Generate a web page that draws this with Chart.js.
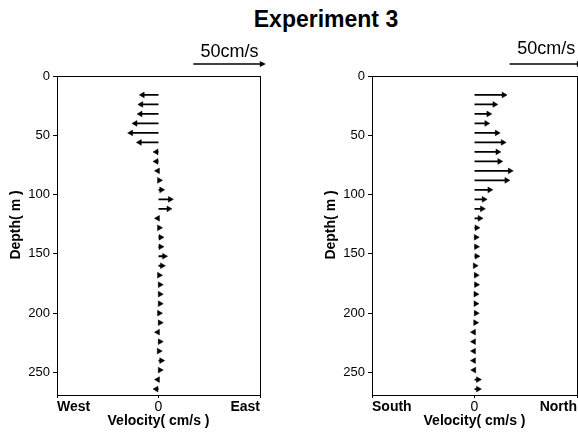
<!DOCTYPE html>
<html><head><meta charset="utf-8">
<script src="https://cdn.jsdelivr.net/npm/chart.js@4"></script>
<style>
html,body{margin:0;padding:0;background:#fff;overflow:hidden;width:578px;height:433px;position:relative;font-family:"Liberation Sans",Arial,sans-serif}
#title{position:absolute;left:0;width:652px;top:6px;text-align:center;font-weight:bold;font-size:23px;color:#000}
.c{position:absolute;top:0}
</style></head><body>
<div id="title">Experiment 3</div>
<canvas id="c1" class="c" style="left:0px"></canvas>
<canvas id="c2" class="c" style="left:315px"></canvas>
<script>
// ---- data ----
const depths = [16,24,32,40,48,56,64,72,80,88,96,104,112,120,128,136,144,152,160,168,176,184,192,200,208,216,224,232,240,248,256,264];
const eastVel = [-11,-12,-12.5,-16,-19,-13,-1.5,-1.5,-0.5,0.5,2,8,7,-0.5,0.5,1.5,1.5,4,2.5,0.5,1,1,1,0.5,1,-0.5,1,0.3,2,1,-0.5,-1.5];
const northVel = [20,13.7,9.6,8.2,15.3,19.4,15.8,17.1,24.2,21.9,10.3,6.4,5.2,3.6,1.5,1,1.2,1.5,0.3,1,1.2,0.8,0.8,1,0.6,-0.5,-0.5,-0.5,-0.5,-0.3,2.5,2.5];
const depthTicks = [0,50,100,150,200,250];
const leftXLabels = ["West","0","East"];
const rightXLabels = ["South","0","North"];
const xTickValues = [-70,0,70];
const scaleBar = {start:24, length:50, label:"50cm/s"};
const yTitle = "Depth( m )";

const FONT = "'Liberation Sans', Arial, sans-serif";

const boxAndScale = {
  id:'boxAndScale',
  afterDraw(chart, args, opts){
    const {ctx, chartArea:a} = chart;
    const xs = chart.scales.x;
    ctx.save();
    ctx.strokeStyle = '#000'; ctx.lineWidth = 1;
    ctx.strokeRect(Math.round(a.left)+0.5, Math.round(a.top)+0.5, Math.round(a.right-a.left), Math.round(a.bottom-a.top));
    // scale arrow
    const x0 = xs.getPixelForValue(scaleBar.start), x1 = xs.getPixelForValue(scaleBar.start+scaleBar.length);
    const y = a.top - 12;
    ctx.lineWidth = 1.5;
    ctx.beginPath(); ctx.moveTo(x0, y); ctx.lineTo(x1-4, y); ctx.stroke();
    ctx.fillStyle = '#000';
    ctx.beginPath(); ctx.moveTo(x1, y); ctx.lineTo(x1-6, y-3); ctx.lineTo(x1-6, y+3); ctx.closePath(); ctx.fill();
    ctx.font = "18px " + FONT; ctx.textAlign = 'center'; ctx.textBaseline = 'alphabetic';
    ctx.fillText(scaleBar.label, (x0+x1)/2, opts.textY);
    // y axis title
    ctx.font = "bold 14px " + FONT; ctx.textBaseline = 'middle';
    ctx.translate(a.left - 41, a.top + (a.bottom - a.top) * 0.467);
    ctx.rotate(-Math.PI/2);
    ctx.fillText(yTitle, 0, 0);
    ctx.restore();
  }
};

function makeChart(id, vals, labels, width, padRight, textY){
  const cv = document.getElementById(id);
  cv.width = width; cv.height = 433;
  const shaft = [];
  depths.forEach((d,i)=>{ shaft.push({x:0,y:d}); shaft.push({x:vals[i],y:d}); shaft.push({x:null,y:null}); });
  const heads = depths.map((d,i)=>({x:vals[i], y:d}));
  const rot = vals.map(v=> v>=0 ? 90 : -90);
  return new Chart(cv, {
    type:'scatter',
    data:{datasets:[
      {data:shaft, showLine:true, spanGaps:false, borderColor:'#000', borderWidth:1.8, pointRadius:0, pointHoverRadius:0},
      {data:heads, pointStyle:'triangle', rotation:rot, pointRadius:3.3, backgroundColor:'#000', borderColor:'#000', borderWidth:0.5}
    ]},
    options:{
      responsive:false, animation:false, devicePixelRatio:1,
      layout:{padding:{top:76, right:padRight, left:0, bottom:0}},
      plugins:{legend:{display:false}, tooltip:{enabled:false}, boxAndScale:{textY:textY}},
      scales:{
        y:{type:'linear', reverse:true, min:0, max:269,
           afterBuildTicks:s=>{ s.ticks = depthTicks.map(v=>({value:v})); },
           afterFit:s=>{ s.width = 57; },
           ticks:{color:'#000', font:{family:FONT, size:13}, padding:3},
           grid:{display:true, drawOnChartArea:false, drawTicks:true, tickLength:4, color:'#000'},
           border:{display:true, color:'#000'},
           title:{display:false}
        },
        x:{type:'linear', min:-70, max:70,
           afterBuildTicks:s=>{ s.ticks = xTickValues.map(v=>({value:v})); },
           afterFit:s=>{ s.height = 38; },
           ticks:{color:'#000', align:'inner', maxRotation:0, autoSkip:false, padding:1,
                  callback:(v,i)=>labels[i],
                  font:c=>({family:FONT, size:14, weight: (c.tick && c.tick.value===0) ? 'normal' : 'bold'})},
           grid:{display:true, drawOnChartArea:false, drawTicks:true, tickLength:3, color:'#000'},
           border:{display:true, color:'#000'},
           title:{display:true, text:'Velocity( cm/s )', color:'#000', font:{family:FONT, size:14, weight:'bold'}, padding:{top:0,bottom:3}}
        }
      }
    },
    plugins:[boxAndScale]
  });
}
makeChart('c1', eastVel, leftXLabels, 300, 40, 57);
makeChart('c2', northVel, rightXLabels, 290, 28, 54);
</script>
</body></html>
